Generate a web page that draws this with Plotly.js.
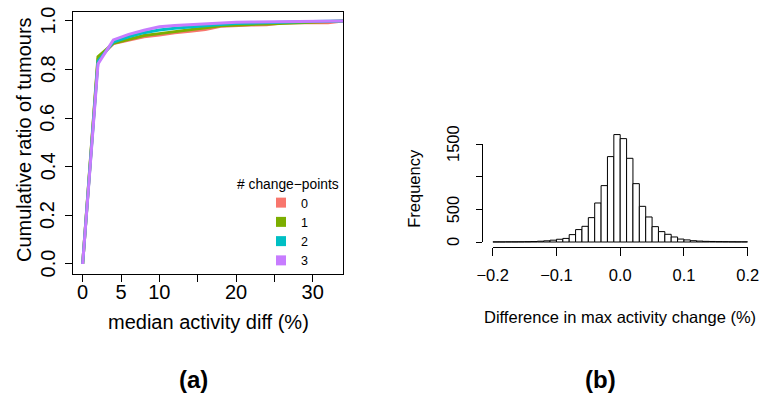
<!DOCTYPE html>
<html>
<head>
<meta charset="utf-8">
<script src="https://cdn.plot.ly/plotly-3.0.1.min.js"></script>
<style>html,body{margin:0;padding:0;background:#fff;}#chart{width:761px;height:393px;}</style>
</head>
<body>
<div id="chart"></div>
<script>
// ---- Panel (a): cumulative ratio of tumours vs median activity diff ----
const diffGrid = [0, 2, 4, 6, 8, 10, 12, 14, 16, 18, 20, 22, 24, 26, 28, 30, 32, 34];
const cum0 = [0, 0.845, 0.907, 0.922, 0.935, 0.942, 0.952, 0.958, 0.965, 0.978, 0.982, 0.983, 0.985, 0.992, 0.993, 0.993, 0.993, 1.0];
const cum1 = [0, 0.853, 0.908, 0.925, 0.940, 0.948, 0.957, 0.964, 0.972, 0.980, 0.984, 0.986, 0.988, 0.990, 0.992, 0.994, 0.996, 1.0];
const cum2 = [0, 0.835, 0.913, 0.935, 0.952, 0.963, 0.970, 0.976, 0.981, 0.986, 0.990, 0.992, 0.994, 0.996, 0.997, 0.998, 0.999, 1.0];
const cum3 = [0, 0.823, 0.922, 0.945, 0.962, 0.976, 0.981, 0.985, 0.989, 0.992, 0.995, 0.996, 0.997, 0.998, 0.999, 0.999, 1.0, 1.0];
const seriesNames = ['0', '1', '2', '3'];
const seriesColors = ['#F8766D', '#7CAE00', '#00BFC4', '#C77CFF'];
const xTickVals = [0, 5, 10, 15, 20, 25, 30];
const xTickText = ['0', '5', '10', '', '20', '', '30'];
const yTickVals = [0, 0.2, 0.4, 0.6, 0.8, 1.0];
const yTickText = ['0.0', '0.2', '0.4', '0.6', '0.8', '1.0'];

// ---- Panel (b): histogram of difference in max activity change ----
const binStart = -0.2;
const binWidth = 0.01;
const binCounts = [2, 2, 3, 3, 4, 5, 7, 12, 18, 28,
                   42, 55, 113, 190, 240, 373, 597, 863, 1307, 1644,
                   1582, 1281, 893, 546, 383, 235, 159, 118, 77, 45,
                   32, 20, 14, 10, 8, 6, 5, 4, 3, 3];
const histXTicks = [-0.2, -0.1, 0.0, 0.1, 0.2];
const histYTicks = [0, 500, 1000, 1500];
const histYText = ['0', '500', '', '1500'];

const W = 761, H = 393;
const px = v => v / W;
const py = v => 1 - v / H;
const FONT = 'Liberation Sans, Arial, Helvetica, sans-serif';

const cums = [cum0, cum1, cum2, cum3];
const traces = [];
cums.forEach((c, i) => {
  traces.push({
    type: 'scatter', mode: 'lines', x: diffGrid, y: c,
    line: {color: seriesColors[i], width: 3}, showlegend: false,
    xaxis: 'x', yaxis: 'y', hoverinfo: 'skip'
  });
});
cums.forEach((c, i) => {
  traces.push({
    type: 'scatter', mode: 'markers', x: [null], y: [null], name: seriesNames[i],
    marker: {symbol: 'square', size: 10, color: seriesColors[i]},
    showlegend: true, xaxis: 'x', yaxis: 'y'
  });
});
const binCenters = binCounts.map((_, i) => binStart + (i + 0.5) * binWidth);
traces.push({
  type: 'bar', x: binCenters, y: binCounts, width: binWidth,
  marker: {color: '#ffffff', line: {color: '#000000', width: 1}},
  showlegend: false, xaxis: 'x2', yaxis: 'y2', hoverinfo: 'skip'
});
traces.push({
  type: 'scatter', mode: 'markers', x: [null], y: [null], showlegend: false,
  xaxis: 'x3', yaxis: 'y3', hoverinfo: 'skip'
});

// rotated y tick labels (R style, parallel to the axis), placed from the tick arrays
const tickAnns = [];
yTickVals.forEach((v, i) => tickAnns.push({
  text: yTickText[i], xref: 'paper', yref: 'y', x: px(47.5), y: v, textangle: -90,
  showarrow: false, xanchor: 'center', yanchor: 'middle', font: {family: FONT, size: 20}
}));
histYTicks.forEach((v, i) => { if (histYText[i]) tickAnns.push({
  text: histYText[i], xref: 'paper', yref: 'y3', x: px(453), y: v, textangle: -90,
  showarrow: false, xanchor: 'center', yanchor: 'middle', font: {family: FONT, size: 16.5}
}); });

const layout = {
  width: W, height: H,
  margin: {l: 0, r: 0, t: 0, b: 0},
  paper_bgcolor: '#ffffff', plot_bgcolor: 'rgba(0,0,0,0)',
  font: {family: FONT, color: '#000000'},
  bargap: 0,
  showlegend: true,
  legend: {
    x: px(261), y: py(188), xanchor: 'left', yanchor: 'top',
    bgcolor: 'rgba(0,0,0,0)', borderwidth: 0,
    font: {family: FONT, size: 12.5, color: '#000'},
    itemclick: false, itemdoubleclick: false
  },
  xaxis: {
    domain: [px(73), px(343)], range: [-1.26, 33.95], anchor: 'y',
    tickmode: 'array', tickvals: xTickVals, ticktext: xTickText,
    ticks: 'outside', ticklen: 7, tickcolor: '#000', tickwidth: 1,
    ticklabelstandoff: -7,
    showline: true, mirror: true, linecolor: '#000', linewidth: 1,
    showgrid: false, zeroline: false,
    tickfont: {family: FONT, size: 20, color: '#000'}
  },
  yaxis: {
    domain: [py(274), py(12)], range: [-0.0412, 1.037], anchor: 'x',
    tickmode: 'array', tickvals: yTickVals, showticklabels: false,
    ticks: 'outside', ticklen: 7, tickcolor: '#000', tickwidth: 1,
    showline: true, mirror: true, linecolor: '#000', linewidth: 1,
    showgrid: false, zeroline: false
  },
  xaxis2: {
    domain: [px(492.7), px(747.7)], range: [-0.2, 0.2], anchor: 'y2',
    tickmode: 'array', tickvals: histXTicks, tickformat: '.1f',
    ticks: 'outside', ticklen: 8, tickcolor: '#000', tickwidth: 1,
    ticklabelstandoff: 5,
    showline: true, linecolor: '#000', linewidth: 1,
    showgrid: false, zeroline: false,
    tickfont: {family: FONT, size: 16.5, color: '#000'}
  },
  yaxis2: {
    domain: [py(247.3), py(130)], range: [-81, 1714], anchor: 'x2',
    visible: false, showgrid: false, zeroline: false
  },
  xaxis3: {
    domain: [px(492.7), px(747.7)], range: [0, 1], anchor: 'y3',
    visible: false, showgrid: false, zeroline: false
  },
  yaxis3: {
    domain: [py(242), py(144)], range: [0, 1500], anchor: 'free', position: px(481.7),
    tickmode: 'array', tickvals: histYTicks, showticklabels: false,
    ticks: 'outside', ticklen: 6, tickcolor: '#000', tickwidth: 1,
    showline: true, linecolor: '#000', linewidth: 1,
    showgrid: false, zeroline: false
  },
  annotations: tickAnns.concat([
    {text: 'Cumulative ratio of tumours', xref: 'paper', yref: 'paper', x: px(24), y: py(140),
     textangle: -90, showarrow: false, xanchor: 'center', yanchor: 'middle', font: {family: FONT, size: 20}},
    {text: 'median activity diff (%)', xref: 'paper', yref: 'paper', x: px(208), y: py(321.7),
     showarrow: false, xanchor: 'center', yanchor: 'middle', font: {family: FONT, size: 20}},
    {text: '# change\u2212points', xref: 'paper', yref: 'paper', x: px(287.5), y: py(184),
     showarrow: false, xanchor: 'center', yanchor: 'middle', font: {family: FONT, size: 13.8}},
    {text: 'Frequency', xref: 'paper', yref: 'paper', x: px(413.3), y: py(188.5),
     textangle: -90, showarrow: false, xanchor: 'center', yanchor: 'middle', font: {family: FONT, size: 16.5}},
    {text: 'Difference in max activity change (%)', xref: 'paper', yref: 'paper', x: px(620), y: py(317.3),
     showarrow: false, xanchor: 'center', yanchor: 'middle', font: {family: FONT, size: 16.5}},
    {text: '<b>(a)</b>', xref: 'paper', yref: 'paper', x: px(193), y: py(379),
     showarrow: false, xanchor: 'center', yanchor: 'middle', font: {family: FONT, size: 24}},
    {text: '<b>(b)</b>', xref: 'paper', yref: 'paper', x: px(600), y: py(379),
     showarrow: false, xanchor: 'center', yanchor: 'middle', font: {family: FONT, size: 24}}
  ])
};

Plotly.newPlot('chart', traces, layout, {staticPlot: true, displayModeBar: false});
</script>
</body>
</html>
